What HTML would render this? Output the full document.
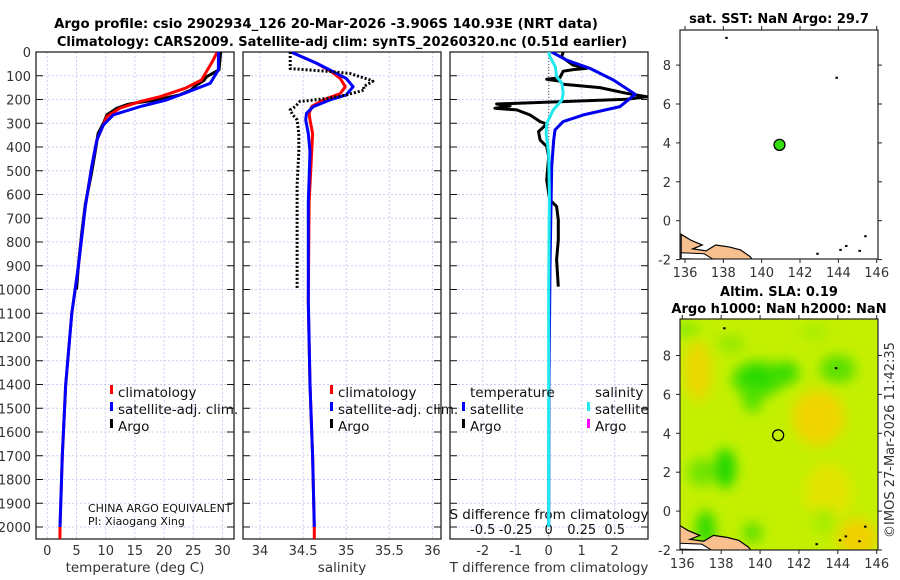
<!DOCTYPE html>
<html><head><meta charset="utf-8">
<style>
html,body{margin:0;padding:0;background:#fff;}
svg{display:block;font-family:"DejaVu Sans","Liberation Sans",sans-serif;}
</style></head>
<body>
<svg id="fig" width="900" height="580" viewBox="0 0 900 580" xmlns="http://www.w3.org/2000/svg">
<defs>
<filter id="blur" x="-20%" y="-20%" width="140%" height="140%"><feGaussianBlur stdDeviation="6"/></filter>
<clipPath id="clipP1"><rect x="36" y="52" width="198" height="487"/></clipPath>
<clipPath id="clipP2"><rect x="243" y="52" width="198" height="487"/></clipPath>
<clipPath id="clipP3"><rect x="450" y="52" width="198" height="487"/></clipPath>
<clipPath id="clipM1"><rect x="680" y="30" width="198" height="229"/></clipPath>
<clipPath id="clipM2"><rect x="680" y="319" width="198" height="231"/></clipPath>
</defs>
<g font-weight="bold" font-size="13" text-anchor="middle" fill="#000">
<text x="326" y="28" font-size="13.3">Argo profile: csio 2902934_126 20-Mar-2026 -3.906S 140.93E (NRT data)</text>
<text x="342" y="46">Climatology: CARS2009. Satellite-adj clim: synTS_20260320.nc (0.51d earlier)</text>
<text x="779" y="23">sat. SST: NaN Argo: 29.7</text>
<text x="779" y="296">Altim. SLA: 0.19</text>
<text x="779" y="313">Argo h1000: NaN h2000: NaN</text>
</g>
<text x="895" y="440" font-size="13" fill="#333" text-anchor="middle" transform="rotate(-90 895 440)" dy="-1">©IMOS 27-Mar-2026 11:42:35</text>
<g id="layer"></g>
</svg>
<script>
// ---------------- DATA ----------------
const depthTicks = [0,100,200,300,400,500,600,700,800,900,1000,1100,1200,1300,1400,1500,1600,1700,1800,1900,2000];
const tempTicks = [0,5,10,15,20,25,30];
const salTicks = [34,34.5,35,35.5,36];
const salTickLabels = ["34","34.5","35","35.5","36"];
const tdiffTicks = [-2,-1,0,1,2];
const sdiffTicks = [-0.5,-0.25,0,0.25,0.5];
const sdiffTickLabels = ["-0.5","-0.25","0","0.25","0.5"];

const tClimDepth = [0,34,118,153,188,209,236,272,307,370,483,651,904,1100,1400,1700,2000,2050];
const tClimVal   = [29.1,28.4,26.4,23.6,19.3,15.9,12.5,10.2,9.6,8.5,7.6,6.5,5.3,4.2,3.15,2.57,2.17,2.15];
const tSatDepth  = [0,75,132,170,202,230,265,307,370,483,651,904,1100,1400,1700,2000];
const tSatVal    = [29.3,29.3,27.9,23.9,20.4,15.9,11.3,9.6,8.5,7.6,6.5,5.3,4.2,3.15,2.57,2.17];
const tArgoDepth = [0,75,104,120,138,160,180,202,216,220,237,265,300,343,420,520,640,760,880,1000];
const tArgoVal   = [29.7,29.4,27.3,26.8,25.6,24.6,22.7,18.7,14.7,13.8,11.9,10.2,9.6,8.7,8.2,7.5,6.5,5.9,5.4,5.0];

const sClimDepth = [0,48,83,111,146,175,202,230,258,286,343,420,631,1052,1400,1700,2000,2050];
const sClimVal   = [34.36,34.66,34.83,34.93,34.99,34.93,34.73,34.6,34.57,34.58,34.61,34.6,34.57,34.56,34.58,34.61,34.63,34.63];
const sSatDepth  = [0,48,83,111,146,181,202,230,258,286,343,420,631,1052,1400,1700,2000];
const sSatVal    = [34.36,34.66,34.85,35.0,35.08,35.0,34.81,34.62,34.54,34.53,34.56,34.58,34.56,34.56,34.58,34.61,34.63];
const sArgoDepth = [0,48,70,82,90,118,123,146,160,181,195,209,230,244,265,286,343,420,560,772,1000];
const sArgoVal   = [34.35,34.35,34.35,34.81,35.04,35.28,35.31,35.2,35.21,35.0,34.79,34.46,34.41,34.35,34.38,34.43,34.45,34.45,34.43,34.43,34.43];

const dtSatDepth = [0,34,69,118,178,230,265,293,328,370,482,904,1400,2000];
const dtSatVal   = [0.09,0.54,1.25,1.96,2.62,2.16,1.05,0.44,0.19,0.15,0.09,0.04,0.01,0.0];
const dsSatDepth = [0,20,62,104,132,174,202,244,301,343,427,600,1000,2000];
const dsSatVal   = [0.0,0.01,0.05,0.06,0.1,0.11,0.1,0.035,-0.015,-0.02,0.0,0.005,0.0,0.0];
const dtArgoDepth = [0,20,55,69,74,81,108,115,123,136,150,174,188,199,219,227,237,244,265,293,303,335,370,398,440,539,622,650,707,791,875,988];
const dtArgoVal   = [0.44,0.39,0.74,1.15,0.74,0.44,0.34,-0.06,0.34,0.44,1.55,2.36,2.97,2.36,-1.58,-1.17,-1.63,-0.97,-0.57,-0.26,-0.06,-0.31,-0.26,-0.06,0.0,-0.06,0.03,0.24,0.29,0.29,0.24,0.29];

const lonTicks = [136,138,140,142,144,146];
const latTicks = [-2,0,2,4,6,8];
const floatLon = 140.93;
const floatLat = 3.9;

// ---------------- AXES ----------------
const NS = "http://www.w3.org/2000/svg";
const layer = document.getElementById('layer');
function mk(tag, attrs, parent){
  const e = document.createElementNS(NS, tag);
  for (const k in attrs) e.setAttribute(k, attrs[k]);
  (parent||layer).appendChild(e);
  return e;
}
const yD = d => 52 + d*0.2375;
const xT = t => 47.3 + t*5.84;
const xS = s => 260 + (s-34)*86.2;
const xDT = t => 548.7 + t*33;
const xDS = s => 548.7 + s*132;
const PW = 198, PT = 52, PB = 539;

function gridAndFrame(x0, vx, name){
  const g = mk('g', {});
  
  
  depthTicks.forEach(d=>{
    const y = yD(d);
    mk('line',{x1:x0,x2:x0+PW,y1:y,y2:y,stroke:'#c9d1f2','stroke-width':1,'stroke-dasharray':'2,2'},g);
    mk('line',{x1:x0,x2:x0+7,y1:y,y2:y,stroke:'#111','stroke-width':1},g);
    mk('line',{x1:x0+PW-7,x2:x0+PW,y1:y,y2:y,stroke:'#111','stroke-width':1},g);
  });
  vx.forEach(x=>{
    mk('line',{x1:x,x2:x,y1:PT,y2:PB,stroke:'#c9d1f2','stroke-width':1,'stroke-dasharray':'2,2'},g);
  });
  mk('rect',{x:x0,y:PT,width:PW,height:PB-PT,fill:'none',stroke:'#222','stroke-width':1.3},g);
}
gridAndFrame(36, tempTicks.map(xT), 'temperature-panel-frame');
gridAndFrame(243, salTicks.map(xS), 'salinity-panel-frame');
gridAndFrame(450, tdiffTicks.map(xDT), 'difference-panel-frame');

depthTicks.forEach(d=>{
  const t = mk('text',{x:31,y:yD(d)+5,'font-size':13,fill:'#333','text-anchor':'end'});
  t.textContent = d;
  
  
});
tempTicks.forEach(v=>{
  const t = mk('text',{x:xT(v),y:555,'font-size':13,fill:'#333','text-anchor':'middle'});
  t.textContent = v;
  
  
});
salTicks.forEach((v,i)=>{
  const t = mk('text',{x:xS(v),y:555,'font-size':13,fill:'#333','text-anchor':'middle'});
  t.textContent = salTickLabels[i];
  
  
});
tdiffTicks.forEach(v=>{
  const t = mk('text',{x:xDT(v),y:555,'font-size':13,fill:'#333','text-anchor':'middle'});
  t.textContent = v;
  
  
});
sdiffTicks.forEach((v,i)=>{
  const t = mk('text',{x:xDS(v),y:534,'font-size':13,fill:'#111','text-anchor':'middle'});
  t.textContent = sdiffTickLabels[i];
  
  
});
[['temperature (deg C)',135,'temperature-axis-title',572],['salinity',342,'salinity-axis-title',572],['T difference from climatology',549,'tdiff-axis-title',572],['S difference from climatology',549,'sdiff-axis-title',519]].forEach(a=>{
  const t = mk('text',{x:a[1],y:a[3],'font-size':13.5,fill:a[2]==='sdiff-axis-title'?'#111':'#333','text-anchor':'middle'});
  t.textContent = a[0];
  
  
});

const zl = mk('line',{x1:xDT(0),x2:xDT(0),y1:PT,y2:PB,stroke:'#555','stroke-width':1,'stroke-dasharray':'1,2'});



function series(depths, vals, xf, color, width, name, clip, dash){
  const pts = depths.map((d,i)=>xf(vals[i]).toFixed(1)+','+yD(d).toFixed(1)).join(' ');
  const attrs = {points:pts,fill:'none',stroke:color,'stroke-width':width,'stroke-linejoin':'round','clip-path':'url(#'+clip+')'};
  if (dash) attrs['stroke-dasharray'] = dash;
  const p = mk('polyline', attrs);
  
  
}
series(tArgoDepth, tArgoVal, xT, '#000', 3, 'argo-temperature-line', 'clipP1');
series(tClimDepth, tClimVal, xT, '#ff0000', 3, 'climatology-temperature-line', 'clipP1');
series(tSatDepth, tSatVal, xT, '#0000ff', 3, 'satellite-temperature-line', 'clipP1');
series(sClimDepth, sClimVal, xS, '#ff0000', 3, 'climatology-salinity-line', 'clipP2');
series(sSatDepth, sSatVal, xS, '#0000ff', 3, 'satellite-salinity-line', 'clipP2');
series(sArgoDepth, sArgoVal, xS, '#000', 3, 'argo-salinity-line', 'clipP2', '2,2');
series(dtArgoDepth, dtArgoVal, xDT, '#000', 3, 'argo-tdiff-line', 'clipP3');
series(dtSatDepth, dtSatVal, xDT, '#0000ee', 3, 'satellite-tdiff-line', 'clipP3');
series(dsSatDepth, dsSatVal, xDS, '#22e8f0', 3, 'satellite-sdiff-line', 'clipP3');

function legend(x, y, color, label, name){
  const g = mk('g', {});
  
  
  mk('rect',{x:x,y:y-12,width:3,height:9,fill:color},g);
  const t = mk('text',{x:x+8,y:y,'font-size':13.5,fill:'#111'},g);
  t.textContent = label;
}
legend(110,397,'#ff0000','climatology','legend-entry-climatology');
legend(110,414,'#0000ff','satellite-adj. clim.','legend-entry-satellite-adj');
legend(110,431,'#000','Argo','legend-entry-argo');
legend(330,397,'#ff0000','climatology','legend-entry-sal-climatology');
legend(330,414,'#0000ff','satellite-adj. clim.','legend-entry-sal-satellite-adj');
legend(330,431,'#000','Argo','legend-entry-sal-argo');
legend(462,414,'#0000ff','satellite','legend-entry-tdiff-satellite');
legend(462,431,'#000','Argo','legend-entry-tdiff-argo');
legend(587,414,'#22e8f0','satellite','legend-entry-sdiff-satellite');
legend(587,431,'#ff00ff','Argo','legend-entry-sdiff-argo');
[['temperature',470,'legend-header-temperature'],['salinity',595,'legend-header-salinity']].forEach(a=>{
  const t = mk('text',{x:a[1],y:397,'font-size':13.5,fill:'#111'});
  t.textContent = a[0];
  
  
});
[['CHINA ARGO EQUIVALENT',512,'program-label'],['PI: Xiaogang Xing',525,'pi-label']].forEach(a=>{
  const t = mk('text',{x:88,y:a[1],'font-size':11,fill:'#111'});
  t.textContent = a[0];
  
  
});

// ---------------- MAPS ----------------
function map(L, T, W, H, lon0x, lonS, lat0y, latS, name, clip, sla){
  const lx = lon => lon0x + (lon-136)*lonS;
  const ly = lat => lat0y - lat*latS;
  const g = mk('g', {});
  
  
  const c = mk('g',{'clip-path':'url(#'+clip+')'},g);
  if (sla){
    mk('rect',{x:L,y:T,width:W,height:H,fill:'#c4f000'},c);
    const bl = mk('g',{filter:'url(#blur)'},c);
    [[136.8,7.2,14,30,'#ecd800'],[143,4.8,26,28,'#f0d400'],[145,-1.4,20,20,'#f0d000'],[143.5,1,24,28,'#e2e400'],
     [136.2,9.3,14,6,'#80e800'],[138.5,8.6,14,8,'#90e800'],[142.8,9.2,14,8,'#a8ec00'],
     [139.9,6.8,26,18,'#40de00'],[139.8,6.8,12,10,'#22d800'],[141.3,7.1,14,12,'#3cdc00'],[139.6,5.8,10,14,'#50e000'],[144,7.3,18,14,'#5ce000'],
     [138.2,2.2,11,20,'#22d800'],[137,2,14,14,'#70e400'],[137.2,-0.9,10,18,'#30da00'],[139.6,-1.1,10,10,'#5ce000'],
     [143.3,-0.5,12,14,'#a8ec00']].forEach(b=>{
      mk('ellipse',{cx:lx(b[0]),cy:ly(b[1]),rx:b[2],ry:b[3],fill:b[4]},bl);
    });
  }
  const land = 'M'+lx(135.8)+','+ly(-0.7)+' L'+lx(136.3)+','+ly(-1.0)+' L'+lx(136.9)+','+ly(-1.25)+' L'+lx(136.4)+','+ly(-1.45)+' L'+lx(137.1)+','+ly(-1.55)+' L'+lx(137.6)+','+ly(-1.25)+' L'+lx(138.3)+','+ly(-1.35)+' L'+lx(138.9)+','+ly(-1.5)+' L'+lx(139.4)+','+ly(-1.85)+' L'+lx(139.6)+','+ly(-2.1)+' L'+lx(135.8)+','+ly(-2.1)+' Z';
  const lp = mk('path',{d:land,fill:'#f7c08e',stroke:'#000','stroke-width':1.2},c);
  
  
  mk('path',{d:'M'+lx(135.8)+','+ly(-1.65)+' L'+lx(137)+','+ly(-1.7)+' L'+lx(137.5)+','+ly(-2)+' L'+lx(135.8)+','+ly(-1.95)+' Z',fill:'#fff',stroke:'#000','stroke-width':1},c);
  [[138.15,9.4],[143.9,7.35],[142.9,-1.7],[144.1,-1.5],[144.4,-1.3],[145.1,-1.55],[145.4,-0.8]].forEach(p=>{
    mk('rect',{x:lx(p[0])-1,y:ly(p[1])-1,width:2.5,height:2,fill:'#000'},c);
  });
  mk('rect',{x:L,y:T,width:W,height:H,fill:'none',stroke:'#222','stroke-width':1.2},g);
  lonTicks.forEach(v=>{
    const x = lx(v);
    mk('line',{x1:x,x2:x,y1:T+H,y2:T+H+4,stroke:'#222'},g);
    mk('line',{x1:x,x2:x,y1:T,y2:T-4,stroke:'#222'},g);
    const t = mk('text',{x:x,y:T+H+18,'font-size':13,fill:'#333','text-anchor':'middle'},g);
    t.textContent = v;
  });
  latTicks.forEach(v=>{
    const y = ly(v);
    mk('line',{x1:L,x2:L-4,y1:y,y2:y,stroke:'#222'},g);
    mk('line',{x1:L+W,x2:L+W+4,y1:y,y2:y,stroke:'#222'},g);
    const t = mk('text',{x:L-9,y:y+5,'font-size':13,fill:'#333','text-anchor':'end'},g);
    t.textContent = v;
  });
  const dot = mk('circle',{cx:lx(floatLon),cy:ly(floatLat),r:5.5,fill:sla?'none':'#33dd11',stroke:'#000','stroke-width':1.3},g);
  
  
}
map(680,30,198,229,685,19.17,220.7,19.45,'sst-map','clipM1',false);
map(680,319,198,231,682.3,19.44,511.1,19.45,'sla-map','clipM2',true);
</script>
</body></html>
